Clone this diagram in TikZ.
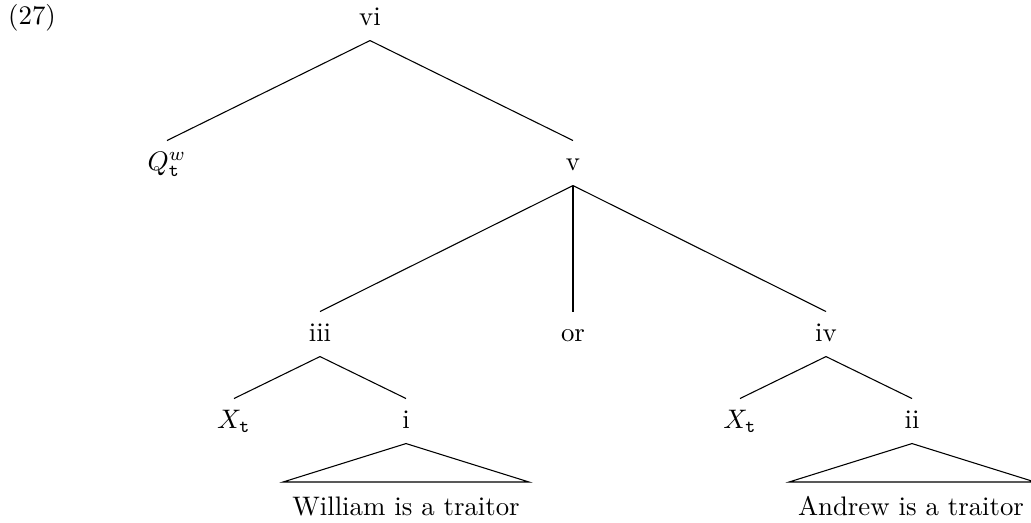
\documentclass[tikz,border=0pt]{standalone}
\begin{document}
\begin{tikzpicture}[x=0.3731pt,y=-0.3731pt,
  lab/.style={anchor=base,inner sep=0pt,text height=10.8pt,text depth=5.6pt},
  edge/.style={line width=0.4pt}]
\useasboundingbox (0,0) rectangle (1031,522);
\node[anchor=base,inner sep=0pt] (num) at (32,24) {(27)};
\node[lab] (vi) at (370,25) {vi};
\node[lab] (Q) at (167,170) {$Q^w_{\mathtt{t}}$};
\node[lab] (v) at (573,170) {v};
\node[lab] (iii) at (320,341) {iii};
\node[lab] (or) at (573,341) {or};
\node[lab] (iv) at (826,341) {iv};
\node[lab] (X1) at (234,428) {$X_{\mathtt{t}}$};
\node[lab] (i) at (406,428) {i};
\node[lab] (X2) at (740,428) {$X_{\mathtt{t}}$};
\node[lab] (ii) at (912,428) {ii};
\node[anchor=base,inner sep=0pt] (w) at (406,515) {William is a traitor};
\node[anchor=base,inner sep=0pt] (a) at (911,515) {Andrew is a traitor};
\coordinate (wl) at (283,482);
\coordinate (wr) at (529,482);
\coordinate (al) at (789,482);
\coordinate (ar) at (1035,482);
\draw[edge] (vi.south) -- (Q.north);
\draw[edge] (vi.south) -- (v.north);
\draw[edge] (v.south) -- (iii.north);
\draw[edge] (v.south) -- (or.north);
\draw[edge] (v.south) -- (iv.north);
\draw[edge] (iii.south) -- (X1.north);
\draw[edge] (iii.south) -- (i.north);
\draw[edge] (iv.south) -- (X2.north);
\draw[edge] (iv.south) -- (ii.north);
\draw[edge] (i.south) -- (wl) -- (wr) -- cycle;
\draw[edge] (ii.south) -- (al) -- (ar) -- cycle;
\end{tikzpicture}
\end{document}
